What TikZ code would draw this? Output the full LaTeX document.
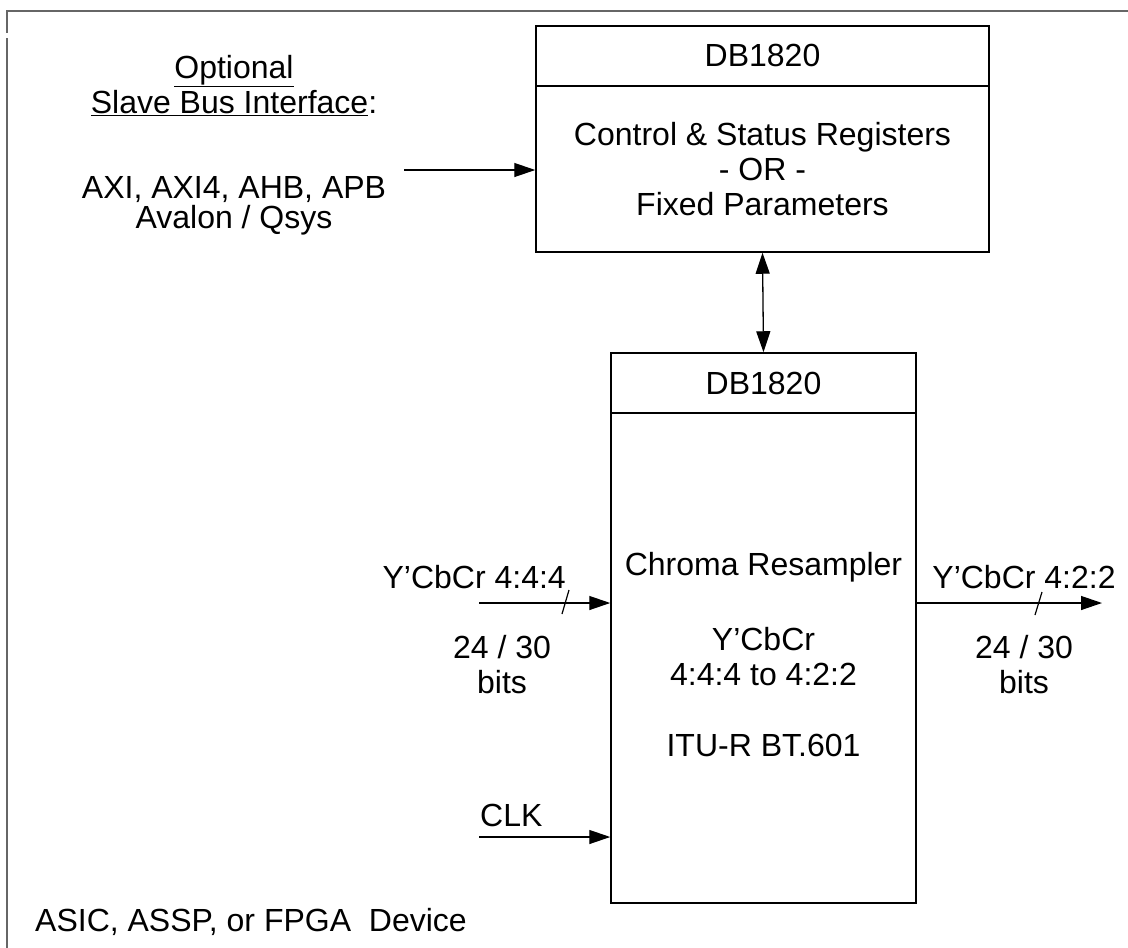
\documentclass[tikz,border=0pt]{standalone}
\usepackage{fontspec}
\setmainfont{Liberation Sans}
\usetikzlibrary{arrows.meta}
\tikzset{
  box/.style={draw=black, line width=1.5pt, inner sep=0pt},
  txt/.style={inner sep=0pt, align=center, font=\fontsize{32}{35}\selectfont},
  arr/.style={line width=1.3pt, -{Triangle[length=21pt,width=14pt]}},
  darr/.style={line width=1.3pt, {Triangle[length=21pt,width=14pt]}-{Triangle[length=21pt,width=14pt]}},
  frame/.style={draw=black!60, line width=1.5pt},
  slash/.style={line width=1.2pt}
}
\begin{document}
\begin{tikzpicture}[x=1pt,y=-1pt]
\useasboundingbox (0,0) rectangle (1128,948);
% device frame
\coordinate (ftr) at (1128,11);
\coordinate (ftl) at (7,11);
\coordinate (fg1) at (7,33);
\coordinate (fg2) at (7,38);
\coordinate (fbl) at (7,948);
\draw[frame] (ftr) -- (ftl) -- (fg1);
\draw[frame] (fg2) -- (fbl);
% top box
\node[box, minimum width=453pt, minimum height=226pt] (top) at (762.5,139) {};
\draw[line width=1.5pt] (536,86) -- (989,86);
\node[txt] (toph) at (762.5,55) {DB1820};
\node[txt] (topb) at (762.5,169) {Control \& Status Registers\\- OR -\\Fixed Parameters};
% bottom box
\node[box, minimum width=305pt, minimum height=550pt] (bot) at (763.5,628) {};
\draw[line width=1.5pt] (611,413) -- (916,413);
\node[txt] (both) at (763.5,383) {DB1820};
\node[txt] (botb1) at (763.5,567) {Chroma Resampler};
\node[txt] (botb2) at (763.5,657) {Y’CbCr\\4:4:4 to 4:2:2};
\node[txt] (botb3) at (763.5,745) {ITU-R BT.601};
% double arrow
\draw[darr] (top.south) -- (bot.north);
% bus interface
\node[txt, anchor=base] (opt1) at (234,78) {\underline{Optional}};
\node[txt, anchor=base] (opt2) at (234,113) {\underline{Slave Bus Interface}:};
\node[txt, anchor=base] (bus1) at (234,198) {AXI, AXI4, AHB, APB};
\node[txt, anchor=base] (bus2) at (234,228) {Avalon / Qsys};
\coordinate (busin) at (404,170);
\draw[arr] (busin) -- (busin -| top.west);
% input
\node[txt, anchor=east] (inlbl) at (566,577) {Y’CbCr 4:4:4};
\node[txt] (inbits) at (502,665) {24 / 30\\bits};
\coordinate (vin) at (479,603);
\draw[arr] (vin) -- (vin -| bot.west);
\draw[slash] (569,590) -- (562,614);
% output
\node[txt] (outlbl) at (1024,577) {Y’CbCr 4:2:2};
\node[txt] (outbits) at (1024,665) {24 / 30\\bits};
\coordinate (vout) at (1102,603);
\draw[arr] (vout -| bot.east) -- (vout);
\draw[slash] (1042,592) -- (1035,615);
% clock
\node[txt, anchor=west] (clk) at (480,815) {CLK};
\coordinate (clkin) at (479,837);
\draw[arr] (clkin) -- (clkin -| bot.west);
% device label
\node[txt, anchor=west] (dev) at (35,922) {ASIC, ASSP, or FPGA\ \ Device};
\end{tikzpicture}
\end{document}
